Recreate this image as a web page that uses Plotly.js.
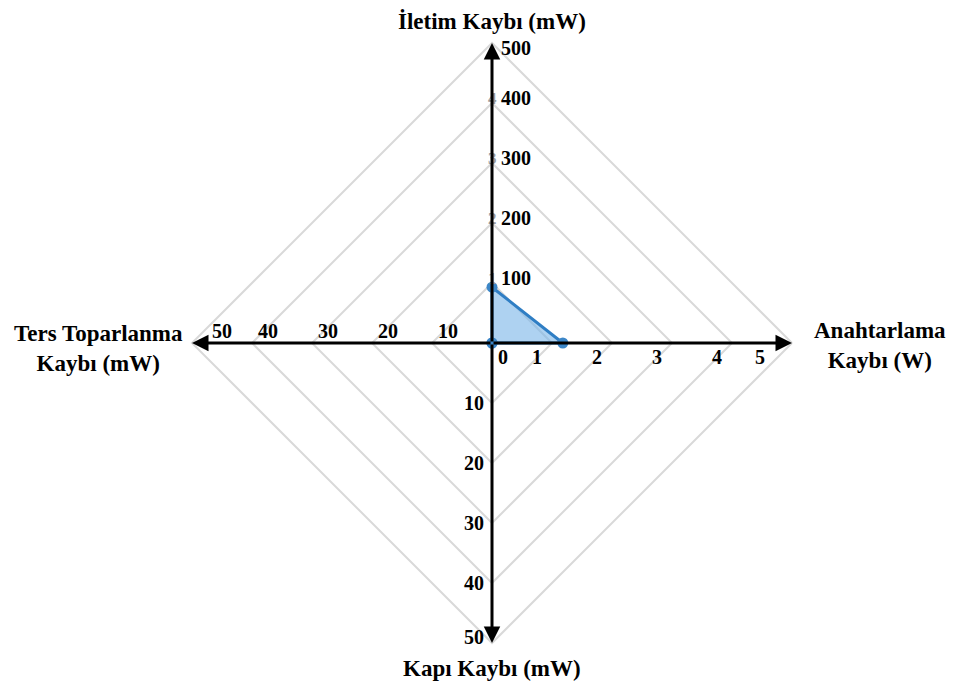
<!DOCTYPE html>
<html><head><meta charset="utf-8">
<script src="https://cdn.plot.ly/plotly-3.0.1.min.js"></script>
<style>html,body{margin:0;padding:0;background:#fff}</style>
</head><body><div id="chart" style="width:953px;height:690px"></div>
<script>
// ---- data ----
const axisTitles = ['İletim Kaybı (mW)', 'Anahtarlama<br>Kaybı (W)', 'Kapı Kaybı (mW)', 'Ters Toparlanma<br>Kaybı (mW)'];
const axisMax = [500, 5, 50, 50];
const lossValues = [93, 1.18, 0, 0];
const topTicks = [100, 200, 300, 400, 500];
const rightTicks = [0, 1, 2, 3, 4, 5];
const bottomTicks = [10, 20, 30, 40, 50];
const leftTicks = [10, 20, 30, 40, 50];
const gridLevels = [1, 2, 3, 4, 5];
const radialTickLabels = [1, 2, 3, 4];

// ---- geometry helpers ----
const R = gridLevels[gridLevels.length - 1];
const dirs = [[0, 1], [1, 0], [0, -1], [-1, 0]];
const FONT = 'Liberation Serif, Times New Roman, serif';

const traces = [];
gridLevels.forEach(L => {
  traces.push({
    type: 'scatter', mode: 'lines', hoverinfo: 'skip', showlegend: false,
    x: [L, 0, -L, 0, L], y: [0, L, 0, -L, 0],
    line: {color: '#d9d9d9', width: 2}
  });
});

const px = lossValues.map((v, i) => v / axisMax[i] * R * dirs[i][0]);
const py = lossValues.map((v, i) => v / axisMax[i] * R * dirs[i][1]);
traces.push({
  type: 'scatter', mode: 'lines', showlegend: false,
  x: px.concat([px[0]]), y: py.concat([py[0]]),
  fill: 'toself', fillcolor: 'rgba(120,180,232,0.6)',
  line: {color: '#2f7ec4', width: 3}
});
traces.push({
  type: 'scatter', mode: 'markers', showlegend: false,
  x: px, y: py,
  marker: {size: 11, color: '#3b86c8'}
});

const ann = [];
const tickFont = {family: FONT, size: 20, color: '#000'};
radialTickLabels.forEach(v => {
  ann.push({x: 0, y: v, xref: 'x', yref: 'y', text: '<b>' + v + '</b>', showarrow: false,
    yshift: 5, font: {family: FONT, size: 17, color: '#9a9a9a'}});
});
// axes arrows
dirs.forEach(d => {
  ann.push({x: d[0] * R, y: d[1] * R, ax: 0, ay: 0, xref: 'x', yref: 'y', axref: 'x', ayref: 'y',
    text: '', showarrow: true, arrowhead: 2, arrowsize: 1.1, arrowwidth: 3, arrowcolor: '#000', standoff: 0});
});
// tick labels
topTicks.forEach(v => {
  ann.push({x: 0, y: v / axisMax[0] * R, xref: 'x', yref: 'y', text: '<b>' + v + '</b>', showarrow: false,
    xanchor: 'left', xshift: 7, yshift: v === axisMax[0] ? -5 : 5, font: tickFont});
});
rightTicks.forEach(v => {
  const sh = v === 0 ? 11 : (v === axisMax[1] ? -32 : -15);
  ann.push({x: v / axisMax[1] * R, y: 0, xref: 'x', yref: 'y', text: '<b>' + v + '</b>', showarrow: false,
    xshift: sh, yshift: -14, font: tickFont});
});
bottomTicks.forEach(v => {
  ann.push({x: 0, y: -v / axisMax[2] * R, xref: 'x', yref: 'y', text: '<b>' + v + '</b>', showarrow: false,
    xshift: -18, yshift: v === axisMax[2] ? 6 : 0, font: tickFont});
});
leftTicks.forEach(v => {
  ann.push({x: -v / axisMax[3] * R, y: 0, xref: 'x', yref: 'y', text: '<b>' + v + '</b>', showarrow: false,
    xshift: v === axisMax[3] ? 30 : 16, yshift: 12, font: tickFont});
});
// axis titles
const titleFont = {family: FONT, size: 23, color: '#000'};
const titlePos = [
  {x: 0, y: R, xshift: 0, yshift: 22},
  {x: R, y: 0, xshift: 88, yshift: -2},
  {x: 0, y: -R, xshift: 0, yshift: -25},
  {x: -R, y: 0, xshift: -94, yshift: -5}
];
axisTitles.forEach((t, i) => {
  ann.push(Object.assign({xref: 'x', yref: 'y', text: '<b>' + t + '</b>', showarrow: false, font: titleFont}, titlePos[i]));
});

const unit = 60, cx = 492, cy = 343, W = 953, H = 690;
const layout = {
  width: W, height: H, autosize: false,
  margin: {l: 0, r: 0, t: 0, b: 0},
  paper_bgcolor: '#fff', plot_bgcolor: '#fff',
  xaxis: {range: [-cx / unit, (W - cx) / unit], visible: false, fixedrange: true},
  yaxis: {range: [-(H - cy) / unit, cy / unit], visible: false, fixedrange: true},
  annotations: ann,
  showlegend: false
};
Plotly.newPlot('chart', traces, layout, {displayModeBar: false, staticPlot: true});
</script>
</body></html>
